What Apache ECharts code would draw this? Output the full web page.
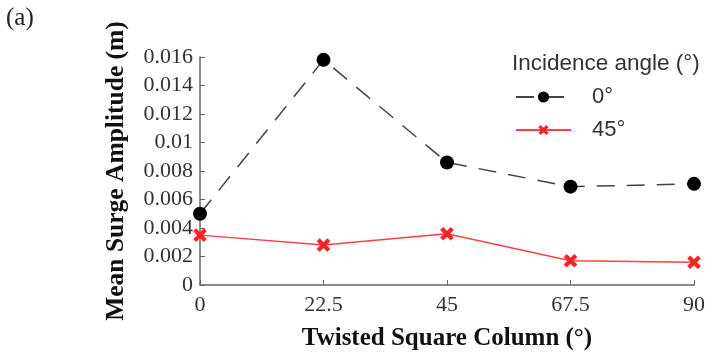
<!DOCTYPE html>
<html>
<head>
<meta charset="utf-8">
<script src="https://cdn.jsdelivr.net/npm/echarts@6/dist/echarts.min.js"></script>
<style>
    html, body { margin: 0; padding: 0; background: #fff; }
    #chart { width: 707px; height: 352px; }
</style>
</head>
<body>
<div id="chart"></div>
<script>
    const columnAngles = [0, 22.5, 45, 67.5, 90];
    const surge0 = [0.005, 0.0158, 0.0086, 0.0069, 0.0071];
    const surge45 = [0.0035, 0.0028, 0.0036, 0.0017, 0.0016];
    const seriesNames = ['0°', '45°'];

    const serif = '"Liberation Serif", "Times New Roman", serif';
    const sans = '"Liberation Sans", Arial, sans-serif';

    // X marker drawn as a rotated plus
    const crossPath = 'path://M3.6,0 H6.4 V3.6 H10 V6.4 H6.4 V10 H3.6 V6.4 H0 V3.6 H3.6 Z';

    const chart = echarts.init(document.getElementById('chart'));

    chart.setOption({
        animation: false,
        grid: { left: 200, right: 13, top: 57, bottom: 67, outerBoundsMode: 'none' },
        graphic: [
            {
                type: 'text', left: 6, top: 6,
                style: { text: '(a)', font: '25px ' + serif, fill: '#222' }
            },
            {
                type: 'text', left: 512, top: 52,
                style: { text: 'Incidence angle (°)', font: '22.5px ' + sans, fill: '#333' }
            }
        ],
        legend: {
            orient: 'vertical',
            left: 510,
            top: 81,
            itemWidth: 55,
            itemHeight: 14,
            itemGap: 11,
            textStyle: { fontFamily: sans, fontSize: 22, color: '#333', padding: [0, 0, 0, 16] },
            data: seriesNames
        },
        xAxis: {
            type: 'value',
            min: 0, max: 90, interval: 22.5,
            name: 'Twisted Square Column (°)',
            nameLocation: 'middle',
            nameGap: 41,
            nameTextStyle: { fontFamily: serif, fontSize: 25, fontWeight: 'bold', color: '#111' },
            axisLine: { lineStyle: { color: '#666', width: 1.5 } },
            axisTick: { show: true, inside: true, length: 5, lineStyle: { color: '#666' } },
            axisLabel: { fontFamily: serif, fontSize: 22, color: '#333', margin: 9 },
            splitLine: { show: false }
        },
        yAxis: {
            type: 'value',
            min: 0, max: 0.016, interval: 0.002,
            name: 'Mean Surge Amplitude (m)',
            nameLocation: 'middle',
            nameGap: 71,
            nameTextStyle: { fontFamily: serif, fontSize: 25.5, fontWeight: 'bold', color: '#111' },
            axisLine: { show: true, lineStyle: { color: '#666', width: 1.5 } },
            axisTick: { show: true, inside: true, length: 5, lineStyle: { color: '#666' } },
            axisLabel: {
                fontFamily: serif, fontSize: 22, color: '#333', margin: 7,
                formatter: function (v) { return String(+v.toFixed(3)); }
            },
            splitLine: { show: false }
        },
        series: [
            {
                name: seriesNames[0],
                type: 'line',
                data: columnAngles.map((a, i) => [a, surge0[i]]),
                symbol: 'circle',
                symbolSize: 14,
                itemStyle: { color: '#000' },
                lineStyle: { color: '#444', width: 1.5, type: [18, 12] }
            },
            {
                name: seriesNames[1],
                type: 'line',
                data: columnAngles.map((a, i) => [a, surge45[i]]),
                symbol: crossPath,
                symbolSize: 15,
                symbolRotate: 45,
                itemStyle: { color: '#ff2020' },
                lineStyle: { color: '#ff4040', width: 1.5 }
            }
        ]
    });
</script>
</body>
</html>
